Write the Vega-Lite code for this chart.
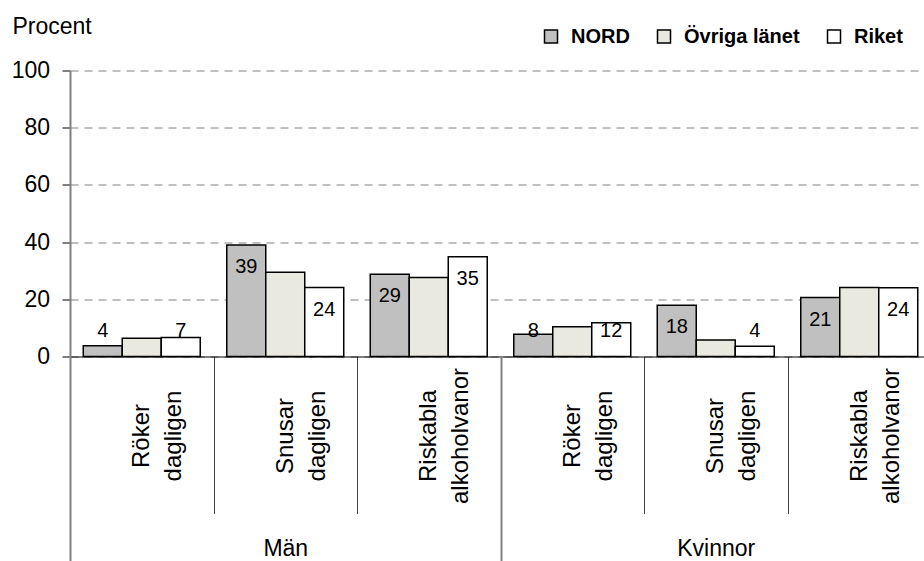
{
  "$schema": "https://vega.github.io/schema/vega-lite/v6.json",
  "width": 861,
  "height": 286,
  "autosize": {"type": "none"},
  "padding": {"left": 70, "top": 70.5, "right": 0, "bottom": 205},
  "background": "white",
  "config": {"view": {"stroke": null}, "font": "Liberation Sans"},
  "data": {
    "values": [
      {"gender": "Män", "cat": "Män|Röker|dagligen", "series": "NORD", "value": 3.8},
      {"gender": "Män", "cat": "Män|Röker|dagligen", "series": "Övriga länet", "value": 6.4},
      {"gender": "Män", "cat": "Män|Röker|dagligen", "series": "Riket", "value": 6.6},
      {"gender": "Män", "cat": "Män|Snusar|dagligen", "series": "NORD", "value": 39.0},
      {"gender": "Män", "cat": "Män|Snusar|dagligen", "series": "Övriga länet", "value": 29.5},
      {"gender": "Män", "cat": "Män|Snusar|dagligen", "series": "Riket", "value": 24.1},
      {"gender": "Män", "cat": "Män|Riskabla|alkoholvanor", "series": "NORD", "value": 28.8},
      {"gender": "Män", "cat": "Män|Riskabla|alkoholvanor", "series": "Övriga länet", "value": 27.6},
      {"gender": "Män", "cat": "Män|Riskabla|alkoholvanor", "series": "Riket", "value": 34.9},
      {"gender": "Kvinnor", "cat": "Kvinnor|Röker|dagligen", "series": "NORD", "value": 7.8},
      {"gender": "Kvinnor", "cat": "Kvinnor|Röker|dagligen", "series": "Övriga länet", "value": 10.4},
      {"gender": "Kvinnor", "cat": "Kvinnor|Röker|dagligen", "series": "Riket", "value": 11.8},
      {"gender": "Kvinnor", "cat": "Kvinnor|Snusar|dagligen", "series": "NORD", "value": 17.9},
      {"gender": "Kvinnor", "cat": "Kvinnor|Snusar|dagligen", "series": "Övriga länet", "value": 5.8},
      {"gender": "Kvinnor", "cat": "Kvinnor|Snusar|dagligen", "series": "Riket", "value": 3.6},
      {"gender": "Kvinnor", "cat": "Kvinnor|Riskabla|alkoholvanor", "series": "NORD", "value": 20.6},
      {"gender": "Kvinnor", "cat": "Kvinnor|Riskabla|alkoholvanor", "series": "Övriga länet", "value": 24.1},
      {"gender": "Kvinnor", "cat": "Kvinnor|Riskabla|alkoholvanor", "series": "Riket", "value": 24.0}
    ]
  },
  "layer": [
    {
      "layer": [
        {
          "mark": {"type": "bar", "stroke": "black", "strokeWidth": 1.5},
          "encoding": {
            "x": {
              "field": "cat", "type": "nominal", "sort": null,
              "scale": {"type": "band", "paddingInner": 0, "paddingOuter": 0},
              "axis": {
                "orient": "bottom", "title": null, "grid": false,
                "domain": true, "domainColor": "black", "domainWidth": 1,
                "ticks": true, "tickBand": "extent", "tickSize": 157, "tickColor": "#404040", "tickWidth": 1,
                "labelExpr": "slice(split(datum.value, '|'), 1)",
                "labelAngle": 270, "labelAlign": "center", "labelBaseline": "middle",
                "labelPadding": -78, "labelFontSize": 24, "labelColor": "black",
                "labelLineHeight": 32, "labelOverlap": false, "labelLimit": 400,
                "labelFont": "Liberation Sans"
              }
            },
            "xOffset": {
              "field": "series", "type": "nominal", "sort": ["NORD", "Övriga länet", "Riket"],
              "scale": {"paddingInner": 0, "paddingOuter": 0.34}
            },
            "y": {
              "field": "value", "type": "quantitative", "stack": null,
              "scale": {"domain": [0, 100], "nice": false},
              "axis": {
                "title": "Procent", "titleAngle": 0, "titleX": -58, "titleY": -37.5,
                "titleAlign": "left", "titleBaseline": "alphabetic", "titleFontSize": 23,
                "titleFontWeight": "normal", "titleColor": "black", "titleFont": "Liberation Sans",
                "values": [0, 20, 40, 60, 80, 100],
                "labelFontSize": 23, "labelColor": "black", "labelPadding": 12.5, "labelFont": "Liberation Sans",
                "tickSize": 8, "tickColor": "#808080", "tickWidth": 2,
                "domainColor": "#808080", "domainWidth": 2,
                "grid": true, "gridDash": [8, 6], "gridColor": "#808080", "gridWidth": 1
              }
            },
            "color": {
              "field": "series", "type": "nominal", "sort": ["NORD", "Övriga länet", "Riket"],
              "scale": {"range": ["#c0c0c0", "#e9e9df", "#ffffff"]},
              "legend": {
                "orient": "none", "legendX": 471, "legendY": -44, "direction": "horizontal",
                "title": null, "symbolType": "square", "symbolSize": 169,
                "symbolStrokeColor": "black", "symbolStrokeWidth": 1.5, "symbolOpacity": 1,
                "labelFontSize": 20, "labelFontWeight": "bold",
                "labelFont": "Liberation Sans",
                "labelColor": "black", "labelOffset": 10, "columnPadding": 24, "padding": 0
              }
            }
          }
        },
        {
          "transform": [{"filter": "datum.series != 'Övriga länet' && datum.value >= 15"}],
          "mark": {"type": "text", "fontSize": 20, "baseline": "middle", "dy": 22, "color": "black", "font": "Liberation Sans"},
          "encoding": {
            "x": {"field": "cat", "type": "nominal", "sort": null},
            "xOffset": {"field": "series", "type": "nominal", "sort": ["NORD", "Övriga länet", "Riket"]},
            "y": {"field": "value", "type": "quantitative", "stack": null},
            "text": {"field": "value", "type": "quantitative", "format": ".0f"}
          }
        },
        {
          "transform": [{"filter": "datum.series != 'Övriga länet' && datum.value < 15"}],
          "mark": {"type": "text", "fontSize": 20, "baseline": "middle", "color": "black", "font": "Liberation Sans"},
          "encoding": {
            "x": {"field": "cat", "type": "nominal", "sort": null},
            "xOffset": {"field": "series", "type": "nominal", "sort": ["NORD", "Övriga länet", "Riket"]},
            "y": {"datum": 8.8, "type": "quantitative"},
            "text": {"field": "value", "type": "quantitative", "format": ".0f"}
          }
        }
      ]
    },
    {
      "mark": {"type": "bar", "opacity": 0},
      "encoding": {
        "x": {
          "field": "gender", "type": "nominal", "sort": null,
          "scale": {"type": "band", "paddingInner": 0, "paddingOuter": 0},
          "axis": {
            "orient": "bottom", "title": null, "grid": false, "domain": false,
            "ticks": true, "tickBand": "extent", "tickSize": 205, "tickColor": "#808080", "tickWidth": 2,
            "labelAngle": 0, "labelAlign": "center", "labelBaseline": "alphabetic",
            "labelPadding": -5.8, "labelFontSize": 23, "labelColor": "black", "labelFont": "Liberation Sans"
          }
        }
      }
    }
  ],
  "resolve": {"scale": {"x": "independent"}, "axis": {"x": "independent"}}
}
